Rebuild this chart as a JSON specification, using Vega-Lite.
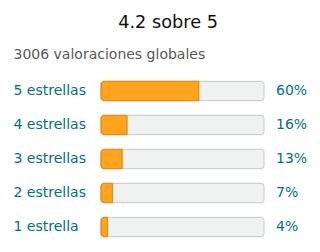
{
  "$schema": "https://vega.github.io/schema/vega-lite/v6.json",
  "width": 163,
  "height": 170,
  "padding": {"left": 13, "top": 14, "right": 5, "bottom": 5},
  "config": {"font": "DejaVu Sans", "view": {"stroke": null}},
  "title": {"text": "4.2 sobre 5", "fontSize": 17.7, "fontWeight": "normal", "color": "#0F1111", "anchor": "middle", "frame": "bounds", "offset": 15, "dx": 8},
  "data": {"values": [
    {"label": "5 estrellas", "pct": 0.60},
    {"label": "4 estrellas", "pct": 0.16},
    {"label": "3 estrellas", "pct": 0.13},
    {"label": "2 estrellas", "pct": 0.07},
    {"label": "1 estrella", "pct": 0.04}
  ]},
  "encoding": {
    "y": {"field": "label", "type": "nominal", "sort": null,
      "scale": {"paddingInner": 0, "paddingOuter": 0},
      "axis": {"title": null, "domain": false, "ticks": false, "labelAlign": "left", "labelPadding": 88, "labelFontSize": 14, "labelColor": "#007185"}}
  },
  "layer": [
    {"mark": {"type": "bar", "height": {"band": 0.57}, "fill": "#F0F2F2", "stroke": "#C5C9C9", "strokeWidth": 1, "cornerRadius": 3},
     "encoding": {
       "x": {"datum": 0, "type": "quantitative", "scale": {"domain": [0, 1]},
         "axis": {"orient": "top", "labels": false, "ticks": false, "domain": false, "grid": false,
           "title": "3006 valoraciones globales", "titleAnchor": "start", "titleAlign": "left", "titleX": -88,
           "titleFontSize": 14, "titleFontWeight": "normal", "titleColor": "#565959", "titlePadding": 13}},
       "x2": {"datum": 1}}},
    {"mark": {"type": "bar", "height": {"band": 0.57}, "fill": "#FFA41C", "stroke": "#E3870F", "strokeWidth": 1, "cornerRadiusTopLeft": 3, "cornerRadiusBottomLeft": 3},
     "encoding": {"x": {"field": "pct", "type": "quantitative"}}},
    {"mark": {"type": "text", "align": "left", "dx": 12, "fontSize": 14, "color": "#007185"},
     "encoding": {"x": {"datum": 1, "type": "quantitative"}, "text": {"field": "pct", "type": "quantitative", "format": ".0%"}}}
  ]
}
